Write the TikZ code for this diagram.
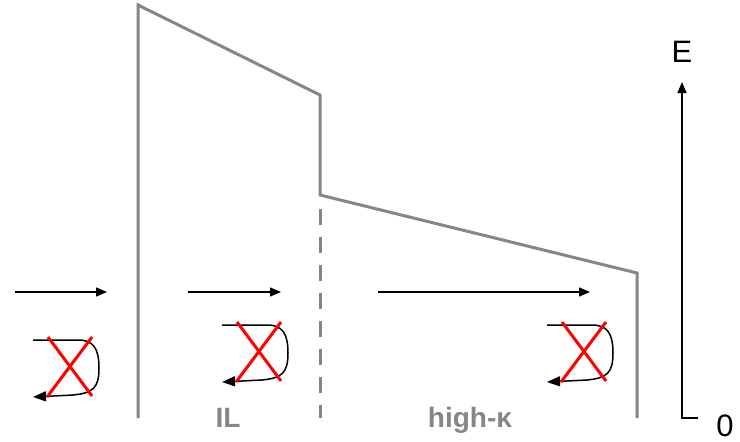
\documentclass[tikz,border=0pt]{standalone}
\usepackage{fontspec}
\setmainfont{Liberation Sans}
\usetikzlibrary{arrows.meta}

\begin{document}
\begin{tikzpicture}[
    x=1pt, y=-1pt,
    band/.style={draw=gray!95, line width=3pt, line join=miter},
    flow/.style={-{Triangle[length=11pt, width=9pt]}, line width=1.4pt},
    loopback/.style={-{Triangle[length=13pt, width=10pt]}, line width=1.5pt},
    blocked/.style={draw=red, line width=3pt},
    layer/.style={font=\bfseries\fontsize{28}{32}\selectfont, text=gray!95, anchor=base, inner sep=0pt},
    axislabel/.style={font=\fontsize{31}{36}\selectfont, anchor=base, inner sep=0pt}
]
\useasboundingbox (0,0) rectangle (740,442);

% band edges
\coordinate (topL) at (138,5);
\coordinate (ilR) at (320,95);
\coordinate (hkL) at (320,195);
\coordinate (hkR) at (637,273);
\draw[band] (138,418) -- (topL) -- (ilR) -- (hkL) -- (hkR) -- (637,418);
\draw[band, dash pattern=on 16pt off 12pt] (320,209) -- (320,418);

% transmitted carriers
\draw[flow] (15,292) -- (107,292);
\draw[flow] (188,292) -- (281,292);
\draw[flow] (378,292) -- (590,292);

% no reflection
\foreach \lx/\ly in {33/340, 222/325, 547/325} {
  \begin{scope}[shift={(\lx,\ly)}]
    \draw[loopback] (0,0) -- (45,0) .. controls (60,0) and (66,8) .. (66,28)
      .. controls (66,48) and (60,53) .. (40,55) -- (0,57);
    \draw[blocked] (15,-3) -- (59,56);
    \draw[blocked] (59,-3) -- (14,57);
  \end{scope}
}

% layer names
\node[layer] (il) at (228,427) {IL};
\node[layer] (hk) at (470,427) {high-κ};

% energy axis
\coordinate (orig) at (682,418);
\draw[flow] (698,418) -- (orig) -- (682,82);
\node[axislabel] (e) at (682,62) {E};
\node[axislabel] (zero) at (725,436) {0};
\end{tikzpicture}
\end{document}
